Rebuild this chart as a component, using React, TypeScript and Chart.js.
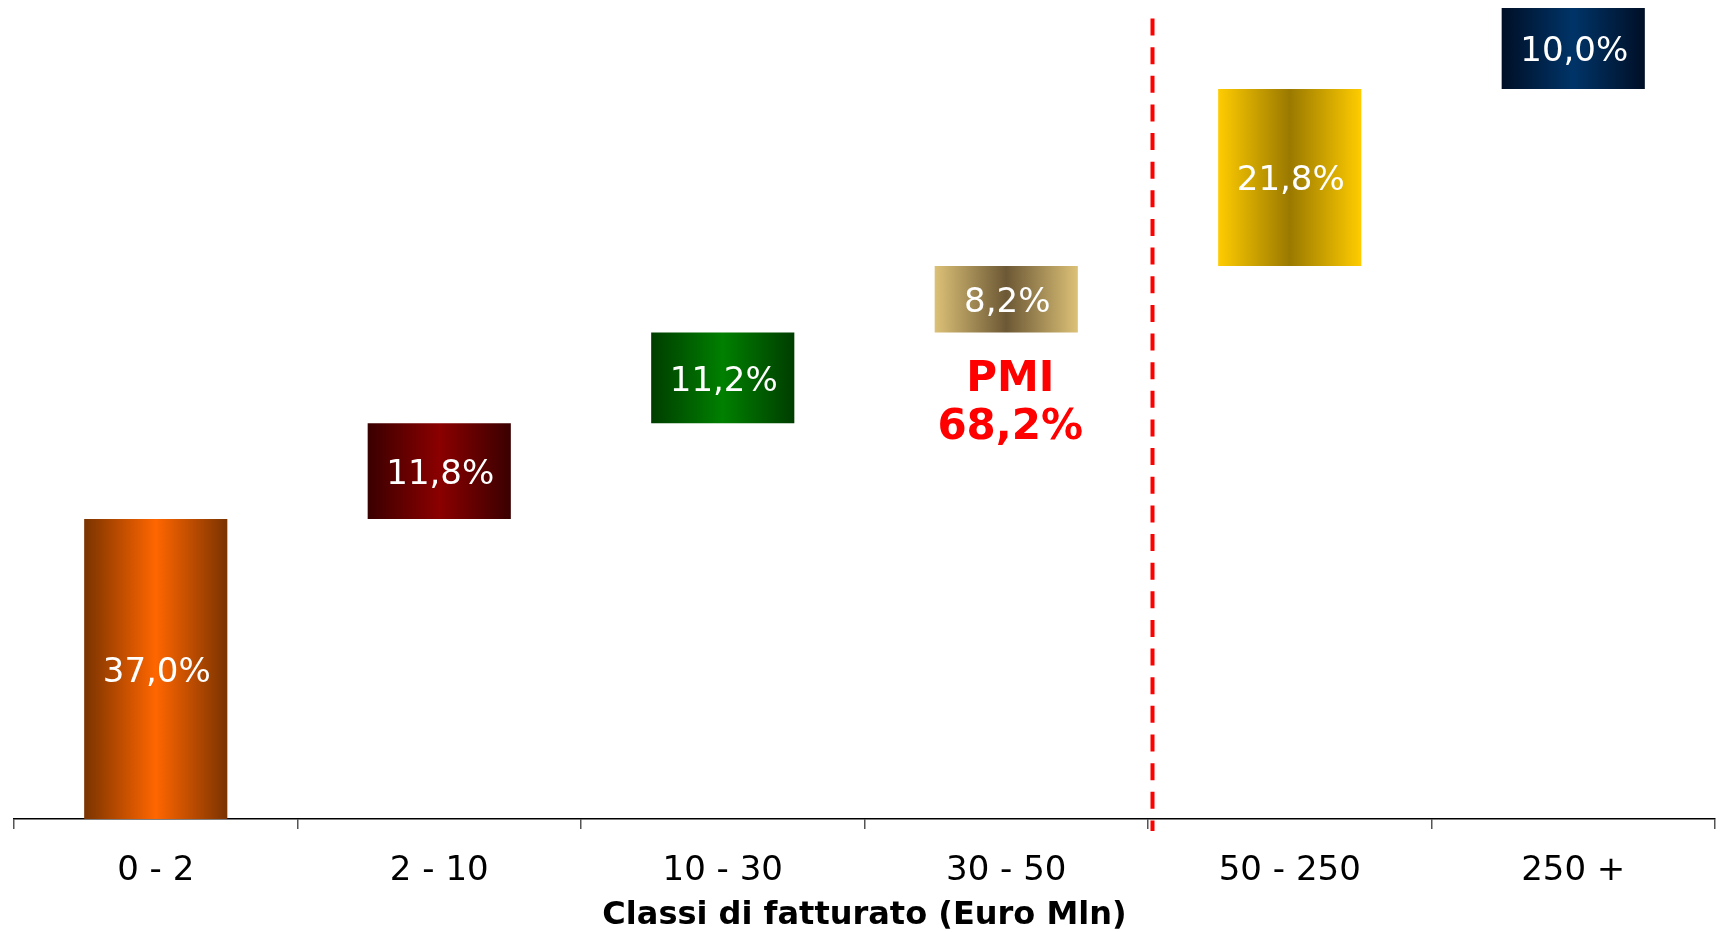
import React, { useEffect, useRef } from "react";
import { Chart, registerables } from "chart.js";

Chart.register(...registerables);

const categories = ["0 - 2", "2 - 10", "10 - 30", "30 - 50", "50 - 250", "250 +"];
const shares = [37.0, 11.8, 11.2, 8.2, 21.8, 10.0];
const valueLabels = ["37,0%", "11,8%", "11,2%", "8,2%", "21,8%", "10,0%"];
const edgeColors = ["#7a3300", "#3a0000", "#003d00", "#dcc177", "#ffcc00", "#000f26"];
const centerColors = ["#ff6600", "#8b0000", "#008000", "#6c5835", "#9a7900", "#003468"];
const pmiTitle = "PMI";
const pmiValue = "68,2%";
const axisTitle = "Classi di fatturato (Euro Mln)";

const FONT = "'DejaVu Sans', Verdana, sans-serif";
const BAR_FRACTION = 0.505;

export default function App() {
  const canvasRef = useRef<HTMLCanvasElement | null>(null);

  useEffect(() => {
    const canvas = canvasRef.current;
    if (!canvas) return;

    const floating: [number, number][] = [];
    let acc = 0;
    for (const s of shares) {
      floating.push([acc, acc + s]);
      acc += s;
    }

    const labelPlugin = {
      id: "overlay",
      afterDatasetsDraw(chart: any) {
        const ctx = chart.ctx;
        const meta = chart.getDatasetMeta(0);
        ctx.save();
        ctx.fillStyle = "#ffffff";
        ctx.font = `34px ${FONT}`;
        ctx.textAlign = "center";
        ctx.textBaseline = "middle";
        meta.data.forEach((el: any, i: number) => {
          const y = (el.y + el.base) / 2;
          ctx.fillText(valueLabels[i], el.x + 1, y + 4);
        });

        const xs = chart.scales.x;
        const ys = chart.scales.y;
        // dashed separator between PMI and large companies
        const sepX = (xs.getPixelForValue(3) + xs.getPixelForValue(4)) / 2 + 4.5;
        ctx.strokeStyle = "#ff0000";
        ctx.lineWidth = 4;
        ctx.setLineDash([17, 11.64]);
        ctx.beginPath();
        ctx.moveTo(sepX, 18.5);
        ctx.lineTo(sepX, chart.chartArea.bottom + 12);
        ctx.stroke();
        ctx.setLineDash([]);

        // PMI annotation
        const px = xs.getPixelForValue(3) + 4;
        const baseY = ys.getPixelForValue(60);
        ctx.fillStyle = "#ff0000";
        ctx.font = `bold 42px ${FONT}`;
        ctx.fillText(pmiTitle, px, baseY + 48);
        ctx.fillText(pmiValue, px, baseY + 96);
        ctx.restore();
      },
    };

    const chart = new Chart(canvas, {
      type: "bar",
      data: {
        labels: categories,
        datasets: [
          {
            data: floating as any,
            borderSkipped: false,
            borderWidth: 0,
            categoryPercentage: 1,
            barPercentage: BAR_FRACTION,
            backgroundColor: (c: any) => {
              const chart = c.chart;
              const xs = chart.scales?.x;
              const i = c.dataIndex ?? 0;
              if (!xs || !chart.chartArea) return centerColors[i];
              const cx = xs.getPixelForValue(i);
              const w = (xs.width / categories.length) * BAR_FRACTION;
              const g = chart.ctx.createLinearGradient(cx - w / 2, 0, cx + w / 2, 0);
              g.addColorStop(0, edgeColors[i]);
              g.addColorStop(0.5, centerColors[i]);
              g.addColorStop(1, edgeColors[i]);
              return g;
            },
          },
        ],
      },
      options: {
        animation: false,
        responsive: true,
        maintainAspectRatio: false,
        layout: { padding: { left: 14, right: 8, top: 8, bottom: 0 } },
        plugins: {
          legend: { display: false },
          tooltip: { enabled: false },
        },
        scales: {
          y: { display: false, min: 0, max: 100 },
          x: {
            afterFit: (scale: any) => {
              scale.height = 113;
            },
            border: { display: true, color: "#000000", width: 1.5 },
            grid: {
              display: true,
              offset: true,
              drawOnChartArea: false,
              drawTicks: true,
              tickLength: 10,
              color: "#555555",
              lineWidth: 1.5,
            },
            ticks: {
              color: "#000000",
              font: { family: FONT, size: 34 },
              padding: 22,
              maxRotation: 0,
            },
            title: {
              display: true,
              text: axisTitle,
              color: "#000000",
              font: { family: FONT, size: 32, weight: "bold" },
              padding: { top: 0, bottom: -3 },
            },
          },
        },
      },
      plugins: [labelPlugin],
    });

    return () => chart.destroy();
  }, []);

  return (
    <div style={{ position: "fixed", left: 0, top: 0, width: 1723, height: 932, background: "#ffffff" }}>
      <canvas ref={canvasRef} />
    </div>
  );
}
